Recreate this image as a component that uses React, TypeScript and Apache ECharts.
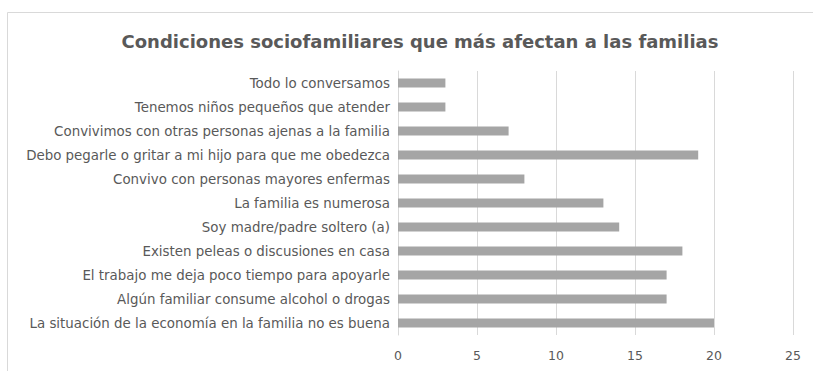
import React, { useEffect, useRef } from "react";
import * as echarts from "echarts";

const categories = [
  "La situación de la economía en la familia no es buena",
  "Algún familiar consume alcohol o drogas",
  "El trabajo me deja poco tiempo para apoyarle",
  "Existen peleas o discusiones en casa",
  "Soy madre/padre soltero (a)",
  "La familia es numerosa",
  "Convivo con personas mayores enfermas",
  "Debo pegarle o gritar a mi hijo para que me obedezca",
  "Convivimos con otras personas ajenas a la familia",
  "Tenemos niños pequeños que atender",
  "Todo lo conversamos",
];
const values = [20, 17, 17, 18, 14, 13, 8, 19, 7, 3, 3];
const titleText = "Condiciones sociofamiliares que más afectan a las familias";

export default function App() {
  const ref = useRef<HTMLDivElement>(null);
  useEffect(() => {
    if (!ref.current) return;
    const chart = echarts.init(ref.current, null, { renderer: "svg" });
    chart.setOption({
      animation: false,
      backgroundColor: "#ffffff",
      title: {
        text: titleText,
        left: 415,
        textAlign: "center",
        top: 27,
        textStyle: {
          fontFamily: "DejaVu Sans",
          fontSize: 18,
          fontWeight: "bold",
          color: "#595959",
        },
      },
      graphic: [
        {
          type: "rect",
          shape: { x: 7.5, y: 12.5, width: 830, height: 400 },
          style: { fill: "none", stroke: "#d9d9d9", lineWidth: 1 },
          silent: true,
        },
      ],
      grid: { left: 398, right: 20, top: 71, bottom: 36, containLabel: false },
      xAxis: {
        type: "value",
        min: 0,
        max: 25,
        interval: 5,
        axisLine: { show: false },
        axisTick: { show: false },
        splitLine: { lineStyle: { color: "#d9d9d9", width: 1 } },
        axisLabel: {
          color: "#595959",
          fontFamily: "DejaVu Sans",
          fontSize: 12.5,
          margin: 14,
        },
      },
      yAxis: {
        type: "category",
        data: categories,
        axisLine: { show: true, lineStyle: { color: "#d9d9d9" } },
        axisTick: { show: false },
        axisLabel: {
          color: "#595959",
          fontFamily: "DejaVu Sans",
          fontSize: 13.4,
          margin: 8,
        },
      },
      series: [
        {
          type: "bar",
          data: values,
          barWidth: 9,
          itemStyle: { color: "#a5a5a5" },
        },
      ],
    });
    return () => chart.dispose();
  }, []);
  return (
    <div
      ref={ref}
      style={{ position: "fixed", left: 0, top: 0, width: 813, height: 371 }}
    />
  );
}
